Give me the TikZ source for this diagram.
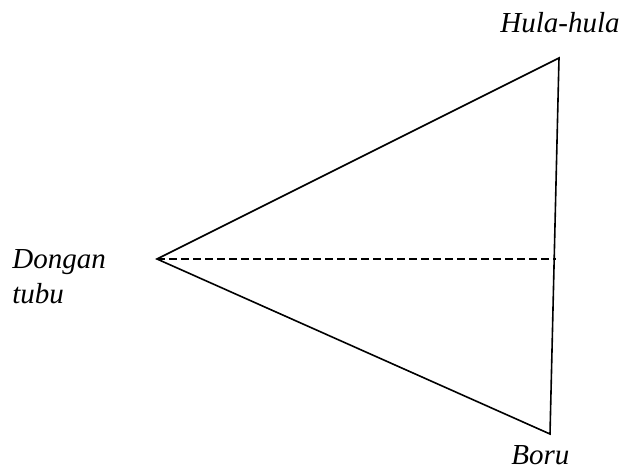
\documentclass[tikz,border=0pt]{standalone}
\usepackage{fontspec}
\setmainfont{Liberation Serif}
\begin{document}
\begin{tikzpicture}[x=0.5pt,y=-0.5pt,
  lbl/.style={font=\fontsize{14.5}{17.5}\selectfont\itshape, inner sep=0pt, anchor=base west, align=left},
  edgeline/.style={line width=0.8pt},
  dashline/.style={line width=0.6pt, dash pattern=on 4pt off 2pt}]
\useasboundingbox (0,0) rectangle (622,468);
\coordinate (L) at (157,259);
\coordinate (T) at (559,58);
\coordinate (B) at (550,434);
\coordinate (M) at (556,259);
\draw[edgeline] (L) -- (T) -- (B) -- cycle;
\draw[dashline] (L) -- (M);
\node[lbl] (hula) at (500,32) {Hula-hula};
\node[lbl] (dongan) at (12,303) {Dongan\\tubu};
\node[lbl] (boru) at (511,464) {Boru};
\end{tikzpicture}
\end{document}
